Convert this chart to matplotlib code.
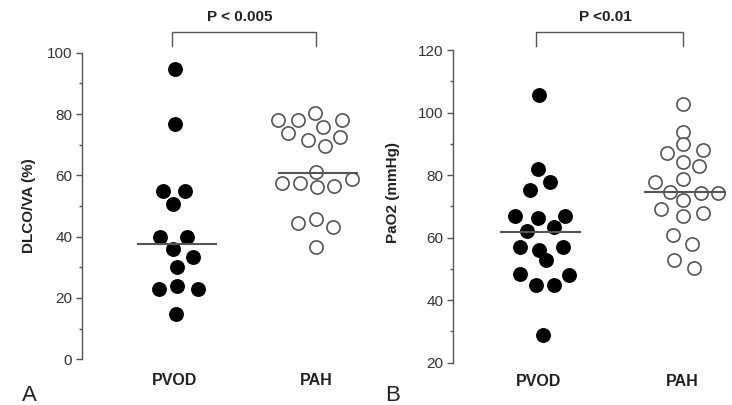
import numpy as np
import matplotlib.pyplot as plt
from matplotlib.ticker import MultipleLocator

plt.rcParams['font.family'] = ['Liberation Sans', 'DejaVu Sans']

# ---- data ----
groups = ['PVOD', 'PAH']

# panel A : DLCO/VA (%)
a_pvod = [94.6, 76.7, 55.0, 55.0, 50.7, 40.0, 40.0, 35.9, 33.5, 30.0, 22.8, 23.9, 22.8, 14.8]
a_pvod_dx = [0, 0, -0.083, 0.071, -0.017, -0.106, 0.083, -0.017, 0.125, 0.017, -0.111, 0.017, 0.163, 0.005]
a_pah = [80.4, 78.0, 78.0, 78.0, 75.9, 73.7, 72.6, 71.5, 69.6, 61.1, 57.6, 57.6, 58.7,
         56.1, 56.5, 44.6, 45.7, 43.0, 36.7]
a_pah_dx = [-0.007, -0.267, -0.125, 0.182, 0.052, -0.196, 0.170, -0.054, 0.064, 0, -0.243, -0.113, 0.253,
            0.005, 0.130, -0.130, 0, 0.123, 0]
a_center = [37.6, 60.9]
a_p = 'P < 0.005'

# panel B : PaO2 (mmHg)
b_pvod = [105.6, 81.8, 77.9, 75.2, 66.9, 66.9, 66.2, 63.3, 62.2, 56.9, 56.9, 56.0, 52.8,
          48.4, 48.0, 44.8, 44.8, 28.8]
b_pvod_dx = [0, -0.007, 0.079, -0.060, -0.167, 0.185, -0.007, 0.104, -0.079, -0.130, 0.171, 0, 0.051,
             -0.130, 0.213, -0.019, 0.104, 0.028]
b_pah = [102.7, 93.9, 89.9, 87.2, 88.0, 84.3, 83.0, 78.6, 77.9, 74.7, 74.2, 74.2, 72.0,
         69.0, 67.8, 66.9, 61.0, 58.0, 52.8, 50.4]
b_pah_dx = [0, 0, 0, -0.109, 0.139, 0, 0.116, 0, -0.190, -0.088, 0.127, 0.243, 0,
            -0.150, 0.139, 0, -0.065, 0.063, -0.058, 0.081]
b_center = [61.9, 74.6]
b_p = 'P <0.01'

grey = '#555555'
fig = plt.figure(figsize=(7.32, 4.05), dpi=100)


def panel(rect, xlim, ylim, major, pvod, pvod_dx, pah, pah_dx, center, ylabel, ptext,
          bracket_y, label_x, label_y, xpad, letter, letter_x):
    ax = fig.add_axes(rect)
    ax.scatter(np.array(pvod_dx), pvod, s=115, color='black', zorder=3, linewidths=0)
    ax.scatter(1 + np.array(pah_dx), pah, s=90, facecolor='white', edgecolor=grey,
               linewidths=1.2, zorder=3)
    for i, c in enumerate(center):
        ax.plot([i - 0.26, i + 0.29], [c, c], color=grey, lw=1.5, zorder=4)

    ax.set_xlim(*xlim)
    ax.set_ylim(*ylim)
    for s in ['top', 'right', 'bottom']:
        ax.spines[s].set_visible(False)
    ax.spines['left'].set_color(grey)
    ax.spines['left'].set_linewidth(1.0)
    ax.yaxis.set_major_locator(MultipleLocator(major))
    ax.yaxis.set_minor_locator(MultipleLocator(10))
    ax.tick_params(axis='y', which='major', length=4, width=1, color=grey,
                   labelsize=11, labelcolor='#333333', pad=3)
    ax.tick_params(axis='y', which='minor', length=2.5, width=1, color=grey)
    ax.set_xticks([0, 1])
    ax.set_xticklabels(groups, fontweight='bold', fontsize=11.5, color='#222222')
    ax.tick_params(axis='x', length=0, pad=xpad)
    ax.set_ylabel(ylabel, fontweight='bold', fontsize=11, color='#222222')
    ax.yaxis.set_label_coords(label_x, label_y)

    top, low = bracket_y
    ax.plot([-0.02, -0.02, 1.0, 1.0], [low, top, top, low], color=grey, lw=1.0, clip_on=False)
    span = ylim[1] - ylim[0]
    ax.text(0.46, top + span * 0.05, ptext, ha='center', va='center', fontsize=11,
            fontweight='bold', color='#222222')
    fig.text(letter_x, 0.01, letter, fontsize=16, color='#222222', ha='left', va='baseline')
    return ax


panel([82 / 732, 0.1128, 288 / 732, 0.7571], (-0.66, 1.383), (0, 100), 20,
      a_pvod, a_pvod_dx, a_pah, a_pah_dx, a_center, 'DLCO/VA (%)', a_p,
      (106.7, 102.2), -0.16, 0.5, 10, 'A', 22 / 732)

panel([453 / 732, 0.1044, 279 / 732, 0.7721], (-0.595, 1.342), (20, 120), 20,
      b_pvod, b_pvod_dx, b_pah, b_pah_dx, b_center, 'PaO2 (mmHg)', b_p,
      (125.7, 121.3), -0.19, 0.543, 8, 'B', 385 / 732)

fig.savefig('out.png', dpi=100)
